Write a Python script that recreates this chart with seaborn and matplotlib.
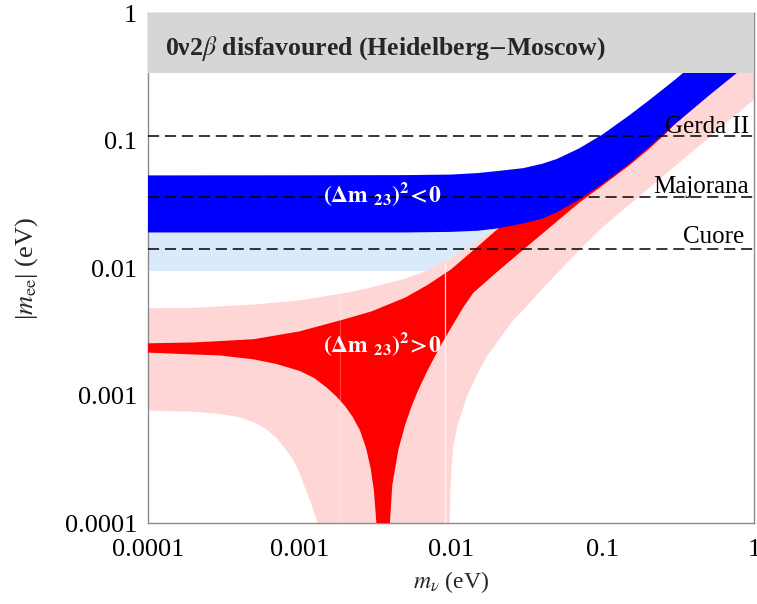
import numpy as np
import matplotlib
matplotlib.use("Agg")
import matplotlib.pyplot as plt
import seaborn as sns
from matplotlib.ticker import FixedLocator, FixedFormatter, LogLocator, NullFormatter

# ---------------- data ----------------
tick_vals = [0.0001, 0.001, 0.01, 0.1, 1]
tick_labels = ["0.0001", "0.001", "0.01", "0.1", "1"]

# inverted hierarchy, dark blue band
ih_up_x = [1e-4, 1e-3, 0.005, 0.01, 0.015, 0.02, 0.03, 0.04, 0.05, 0.07, 0.1, 0.15, 0.2, 0.3, 0.34, 0.5, 1.0]
ih_up_y = [0.0535, 0.0536, 0.0538, 0.0543, 0.0558, 0.0578, 0.061, 0.066, 0.072, 0.087, 0.112, 0.158, 0.205, 0.30, 0.34, 0.5, 1.0]
ih_lo_x = [1e-4, 1e-3, 0.005, 0.01, 0.015, 0.02, 0.03, 0.04, 0.05, 0.07, 0.1, 0.15, 0.2, 0.3, 0.5, 0.77, 1.0]
ih_lo_y = [0.0191, 0.0191, 0.0191, 0.0193, 0.0197, 0.0205, 0.0225, 0.0245, 0.0275, 0.0345, 0.046, 0.066, 0.088, 0.135, 0.225, 0.34, 0.45]

# inverted hierarchy, light blue (wider) band lower edge
ih3_lo_x = [1e-4, 0.01, 0.0285, 0.0473, 0.0787, 0.131, 0.217, 0.36, 0.77, 1.0]
ih3_lo_y = [0.0095, 0.0095, 0.0105, 0.0125, 0.020, 0.032, 0.055, 0.09, 0.19, 0.24]

# normal hierarchy, light pink (wider) band
nh3_up_x = [1e-4, 2e-4, 5e-4, 1e-3, 2e-3, 3e-3, 5e-3, 7e-3, 0.01, 0.013, 0.0155, 0.02, 0.03, 0.05, 0.1, 0.2, 0.36, 1.0]
nh3_up_y = [0.00485, 0.0049, 0.0052, 0.0056, 0.0064, 0.0071, 0.0083, 0.0096, 0.012, 0.0146, 0.0168, 0.021, 0.0305, 0.050, 0.10, 0.19, 0.30, 0.9]
nh3_lo_x = [1e-4, 2e-4, 3e-4, 4e-4, 5e-4, 6e-4, 7e-4, 8e-4, 9e-4, 1e-3, 1.08e-3, 1.2e-3, 1.32e-3, 1.4e-3,
            0.0097, 0.0098, 0.0099, 0.0101, 0.01035, 0.011, 0.0127, 0.015, 0.0172, 0.02, 0.0258, 0.03,
            0.0387, 0.05, 0.07, 0.1, 0.15, 0.3, 1.0]
nh3_lo_y = [0.000764, 0.00075, 0.00072, 0.00068, 0.00062, 0.00055, 0.00047, 0.00039, 0.00032, 0.00025, 0.000194, 0.00014, 1e-4, 1e-5,
            1e-5, 1e-4, 0.00017, 0.00028, 0.0004, 0.00058, 0.00098, 0.0015, 0.00203, 0.0026, 0.00393, 0.0047,
            0.0066, 0.0091, 0.0138, 0.021, 0.0315, 0.063, 0.21]

# normal hierarchy, red band
nh_up_x = [1e-4, 2e-4, 5e-4, 1e-3, 2e-3, 3e-3, 5e-3, 7e-3, 0.01, 0.015, 0.02, 0.03, 0.05, 0.1, 0.2, 0.36, 1.0]
nh_up_y = [0.00258, 0.00262, 0.00278, 0.0032, 0.0040, 0.0046, 0.0059, 0.0074, 0.0098, 0.0148, 0.020, 0.030, 0.050, 0.10, 0.19, 0.30, 0.9]
nh_lo_x = [1e-4, 3e-4, 5e-4, 7e-4, 1e-3, 1.25e-3, 1.5e-3, 1.75e-3, 2e-3, 2.25e-3, 2.5e-3, 2.75e-3, 2.95e-3,
           3.1e-3, 3.22e-3, 3.26e-3,
           3.9e-3, 3.95e-3, 4.1e-3, 4.5e-3, 5e-3, 5.5e-3, 6e-3, 7e-3, 8.5e-3, 0.01, 0.012, 0.014, 0.02, 0.03,
           0.05, 0.07, 0.1, 0.15, 0.2, 0.26, 0.3, 0.5, 1.0]
nh_lo_y = [0.00218, 0.00207, 0.00193, 0.00178, 0.00157, 0.00138, 0.00117, 0.00099, 0.00083, 0.00068, 0.00054, 0.00039, 0.00027,
           0.00018, 1e-4, 1e-5,
           1e-5, 1e-4, 0.0002, 0.00038, 0.0006, 0.00083, 0.00107, 0.00158, 0.00245, 0.0034, 0.0049, 0.0064, 0.0093, 0.014,
           0.0233, 0.0326, 0.0445, 0.064, 0.085, 0.113, 0.135, 0.225, 0.45]

# excluded region (Heidelberg-Moscow)
hm_lo, hm_hi = 0.34, 1.0

# experimental sensitivities
exp_names = ["Gerda II", "Majorana", "Cuore"]
exp_values = [0.109, 0.0365, 0.0141]
exp_label_x = [0.93, 0.93, 0.86]
exp_label_y = [0.1158, 0.0392, 0.0157]

# white rendering seams in the reference
seam_x = [0.00912, 0.00185]
seam_top = [0.0108, 0.0062]
seam_alpha = [0.85, 0.25]

# ---------------- styling ----------------
sns.set_theme(style="white")
plt.rcParams['font.family'] = ['Liberation Serif', 'DejaVu Serif']
plt.rcParams['mathtext.fontset'] = 'stix'
plt.rcParams['lines.scale_dashes'] = False

c_blue = "#0000FF"
c_lblue = "#DAEAFA"
c_pink = "#FFD6D6"
c_red = "#FF0000"
c_gray = "#D6D6D6"
c_frame = "#8A8A8A"

fig = plt.figure(figsize=(7.57, 6.04), dpi=100)
ax = fig.add_axes([0.1955, 0.1336, 0.8005, 0.8444])
ax.set_xscale('log')
ax.set_yscale('log')


def band(xu, yu, xl, yl, color, z):
    xs = np.concatenate([np.asarray(xu), np.asarray(xl)[::-1]])
    ys = np.concatenate([np.asarray(yu), np.asarray(yl)[::-1]])
    ax.fill(xs, ys, color=color, lw=0, zorder=z)


band(ih_up_x, ih_up_y, ih3_lo_x, ih3_lo_y, c_lblue, 1)
band(nh3_up_x, nh3_up_y, nh3_lo_x, nh3_lo_y, c_pink, 2)
band(nh_up_x, nh_up_y, nh_lo_x, nh_lo_y, c_red, 3)
for sx, st, sa in zip(seam_x, seam_top, seam_alpha):
    ax.plot([sx, sx], [1e-4, st], color="white", lw=0.9, alpha=sa, zorder=3.5)
band(ih_up_x, ih_up_y, ih_lo_x, ih_lo_y, c_blue, 4)
ax.axhspan(hm_lo, hm_hi, color=c_gray, lw=0, zorder=5)

for name, v, lx, ly in zip(exp_names, exp_values, exp_label_x, exp_label_y):
    sns.lineplot(x=[1e-4, 1.0], y=[v, v], ax=ax, color="black", lw=1.1,
                 linestyle=(0, (8, 4.2)), zorder=6)
    ax.text(lx, ly, name, ha="right", va="baseline", fontsize=18, color="black", zorder=7)

ax.text(1.29e-4, 0.53, r"0ν2$\beta$ disfavoured (Heidelberg$-$Moscow)", ha="left", va="center",
        fontsize=18.5, fontweight="bold", zorder=7)
ax.text(0.0035, 0.0385, r"$\mathbf{(\Delta m}$ $_{\mathbf{23}}\mathbf{)^{2}\!<\!0}$", ha="center", va="center",
        fontsize=17, color="white", zorder=7)
ax.text(0.0035, 0.00255, r"$\mathbf{(\Delta m}$ $_{\mathbf{23}}\mathbf{)^{2}\!>\!0}$", ha="center", va="center",
        fontsize=17, color="white", zorder=7)

ax.set_xlim(1e-4, 1)
ax.set_ylim(1e-4, 1)

for axis in (ax.xaxis, ax.yaxis):
    axis.set_major_locator(FixedLocator(tick_vals))
    axis.set_major_formatter(FixedFormatter(tick_labels))
    axis.set_minor_locator(LogLocator(base=10, subs=np.arange(2, 10)))
    axis.set_minor_formatter(NullFormatter())

ax.tick_params(which="both", direction="in", color=c_frame, top=False, right=False,
               labelsize=19, labelcolor="black")
ax.tick_params(which="major", length=7, width=0.9)
ax.tick_params(which="minor", length=5.5, width=0.8)
ax.tick_params(axis="y", pad=8)
ax.tick_params(axis="x", pad=11)

for sp in ax.spines.values():
    sp.set_color(c_frame)
    sp.set_linewidth(1.0)
    sp.set_visible(True)

ax.set_xlabel(r"$m_\nu$ (eV)", fontsize=17, labelpad=6)
ax.set_ylabel(r"|$m_{\rm ee}$| (eV)", fontsize=19, labelpad=18)
ax.grid(False)

fig.savefig("out.png", dpi=100)
